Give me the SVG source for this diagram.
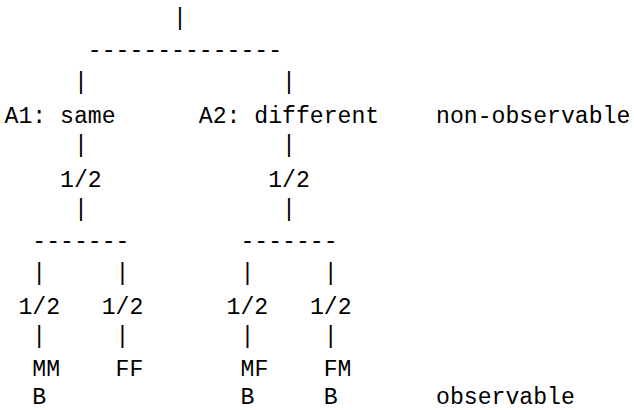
<svg xmlns="http://www.w3.org/2000/svg" width="634" height="410" viewBox="0 0 634 410">
<style>
text{font-family:"Liberation Mono","Courier New",monospace;font-size:23.13px;fill:#000;white-space:pre}
</style>
<rect width="634" height="410" fill="#fff"/>
<g id="connectors">
<text x="173" y="25" xml:space="preserve">|</text>
<text x="87.8" y="57" xml:space="preserve">--------------</text>
<text x="73.9" y="88.5" xml:space="preserve">|              |</text>
<text x="73.9" y="152" xml:space="preserve">|              |</text>
<text x="73.9" y="216" xml:space="preserve">|              |</text>
<text x="32.3" y="248" xml:space="preserve">-------        -------</text>
<text x="32.3" y="279.5" xml:space="preserve">|     |        |     |</text>
<text x="32.3" y="343" xml:space="preserve">|     |        |     |</text>
</g>
<g id="A1"><text x="4.5" y="123" xml:space="preserve">A1: same</text></g>
<g id="A2"><text x="198.8" y="123" xml:space="preserve">A2: different</text></g>
<g id="nonobs"><text x="436" y="123" xml:space="preserve">non-observable</text></g>
<g id="p1"><text x="60" y="186.6">1/2</text></g>
<g id="p2"><text x="268.2" y="186.6">1/2</text></g>
<g id="p11"><text x="18.4" y="313.8">1/2</text></g>
<g id="p12"><text x="101.7" y="313.8">1/2</text></g>
<g id="p21"><text x="226.6" y="313.8">1/2</text></g>
<g id="p22"><text x="309.9" y="313.8">1/2</text></g>
<g id="MM"><text x="32.3" y="376">MM</text><text x="32.3" y="404">B</text></g>
<g id="FF"><text x="115.5" y="376">FF</text></g>
<g id="MF"><text x="240.5" y="376">MF</text><text x="240.5" y="404">B</text></g>
<g id="FM"><text x="323.7" y="376">FM</text><text x="323.7" y="404">B</text></g>
<g id="obs"><text x="436" y="404">observable</text></g>
</svg>
